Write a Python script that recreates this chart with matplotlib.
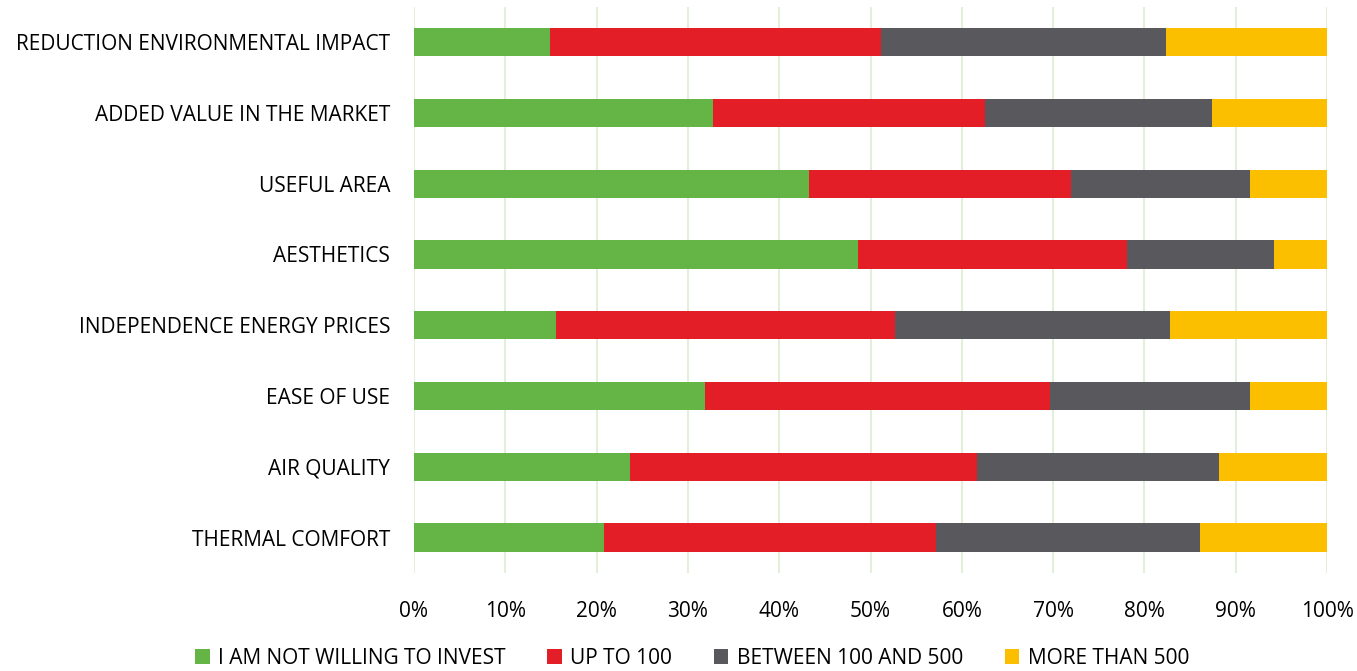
import matplotlib.pyplot as plt
import numpy as np

categories = [
    "REDUCTION ENVIRONMENTAL IMPACT",
    "ADDED VALUE IN THE MARKET",
    "USEFUL AREA",
    "AESTHETICS",
    "INDEPENDENCE ENERGY PRICES",
    "EASE OF USE",
    "AIR QUALITY",
    "THERMAL COMFORT",
]
series_names = ["I AM NOT WILLING TO INVEST", "UP TO 100", "BETWEEN 100 AND 500", "MORE THAN 500"]
not_willing = [14.9, 32.7, 43.3, 48.6, 15.6, 31.9, 23.7, 20.8]
up_to_100 = [36.3, 29.8, 28.6, 29.5, 37.1, 37.7, 38.0, 36.4]
between_100_500 = [31.2, 24.9, 19.6, 16.1, 30.1, 22.0, 26.5, 28.9]
more_than_500 = [17.6, 12.6, 8.5, 5.8, 17.2, 8.4, 11.8, 13.9]
colors = ["#65b446", "#e41e26", "#59585c", "#fbbf00"]

plt.rcParams['font.family'] = ['Open Sans', 'DejaVu Sans']

fig = plt.figure(figsize=(13.57, 6.71), dpi=100)
ax = fig.add_axes([0.305, 0.146, 0.673, 0.844])

y = np.arange(len(categories))[::-1]
left = np.zeros(len(categories))
for name, vals, c in zip(series_names, [not_willing, up_to_100, between_100_500, more_than_500], colors):
    ax.barh(y, vals, left=left, height=0.4, color=c, label=name, zorder=3)
    left += np.array(vals)

ax.set_xlim(0, 100)
ax.set_ylim(-0.5, 7.5)
ax.set_xticks(np.arange(0, 101, 10))
ax.set_xticklabels([f"{v}%" for v in range(0, 101, 10)], fontsize=15)
ax.set_yticks(y)
ax.set_yticklabels(categories, fontsize=15)
ax.tick_params(length=0)
ax.tick_params(axis='y', pad=17)
ax.tick_params(axis='x', pad=20)
ax.grid(axis='x', color='#e2f0d9', linewidth=1.5, zorder=0)
for s in ax.spines.values():
    s.set_visible(False)

fig.legend(loc='lower center', bbox_to_anchor=(0.51, -0.025), ncol=4, frameon=False,
           fontsize=15, handlelength=0.7, handleheight=0.7, handletextpad=0.4, columnspacing=2.0)

fig.savefig("out.png", dpi=100)
